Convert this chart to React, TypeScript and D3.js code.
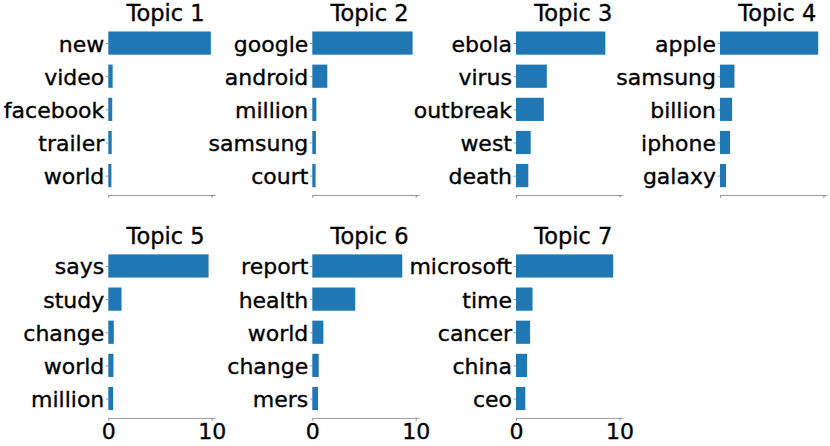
import React, { useEffect, useRef } from 'react'
import * as d3 from 'd3'

// top words per topic
const topic1Words = ['new', 'video', 'facebook', 'trailer', 'world']
const topic1Weights = [9.92, 0.42, 0.38, 0.33, 0.3]
const topic2Words = ['google', 'android', 'million', 'samsung', 'court']
const topic2Weights = [9.7, 1.45, 0.39, 0.35, 0.32]
const topic3Words = ['ebola', 'virus', 'outbreak', 'west', 'death']
const topic3Weights = [8.64, 2.98, 2.69, 1.42, 1.19]
const topic4Words = ['apple', 'samsung', 'billion', 'iphone', 'galaxy']
const topic4Weights = [9.5, 1.4, 1.17, 0.97, 0.58]
const topic5Words = ['says', 'study', 'change', 'world', 'million']
const topic5Weights = [9.7, 1.28, 0.53, 0.5, 0.47]
const topic6Words = ['report', 'health', 'world', 'change', 'mers']
const topic6Weights = [8.7, 4.15, 1.07, 0.62, 0.55]
const topic7Words = ['microsoft', 'time', 'cancer', 'china', 'ceo']
const topic7Weights = [9.4, 1.6, 1.36, 1.07, 0.9]
const xTicks = [0, 10]

const topics = [
  { title: 'Topic 1', words: topic1Words, weights: topic1Weights },
  { title: 'Topic 2', words: topic2Words, weights: topic2Weights },
  { title: 'Topic 3', words: topic3Words, weights: topic3Weights },
  { title: 'Topic 4', words: topic4Words, weights: topic4Weights },
  { title: 'Topic 5', words: topic5Words, weights: topic5Weights },
  { title: 'Topic 6', words: topic6Words, weights: topic6Weights },
  { title: 'Topic 7', words: topic7Words, weights: topic7Weights },
]

const W = 830
const H = 446
const colLeft = [108.3, 312.3, 516, 720]
const rowTop = [23.7, 246.6]
const axW = 106.7
const axH = 171.3
const FONT = '"DejaVu Sans", Verdana, sans-serif'
const BLUE = '#1f77b4'
const GREY = '#808080'

// matplotlib-ish heavier text
function styleText(sel: any, size: number) {
  sel
    .attr('font-family', FONT)
    .attr('font-size', size)
    .attr('fill', '#000')
    .attr('stroke', '#000')
    .attr('stroke-width', 0.35)
}

function App() {
  const ref = useRef<SVGSVGElement>(null)

  useEffect(() => {
    const svg = d3.select(ref.current)
    svg.selectAll('*').remove()

    // shared x scale (sharex)
    const x = d3.scaleLinear().domain([0, 10.32]).range([0, axW])

    topics.forEach((t, i) => {
      const col = i % 4
      const row = Math.floor(i / 4)
      const g = svg.append('g')
        .attr('transform', `translate(${colLeft[col]},${rowTop[row]})`)

      const y = d3.scaleLinear().domain([-0.585, 4.585]).range([0, axH])
      const unit = y(1) - y(0)
      const idx = t.words.map((_, k) => k)

      g.selectAll('rect.bar')
        .data(idx)
        .enter()
        .append('rect')
        .attr('class', 'bar')
        .attr('x', x(0))
        .attr('y', k => y(k) - unit * 0.35)
        .attr('width', k => x(t.weights[k]) - x(0))
        .attr('height', unit * 0.7)
        .attr('fill', BLUE)

      // y ticks + word labels (left spine hidden)
      const yAxis = d3.axisLeft(y)
        .tickValues(idx)
        .tickSize(2.5)
        .tickPadding(1.5)
        .tickFormat((k: any) => t.words[k])
      const ya = g.append('g').call(yAxis)
      ya.select('.domain').remove()
      ya.selectAll('line').attr('stroke', GREY).attr('stroke-width', 0.8)
      styleText(ya.selectAll('text').attr('dy', '0.36em'), 22)

      // bottom spine with ticks; labels only on last row
      const xAxis = d3.axisBottom(x)
        .tickValues(xTicks)
        .tickSize(3)
        .tickSizeOuter(0)
        .tickPadding(2)
        .tickFormat(row === 1 ? (d3.format('d') as any) : () => '')
      const xa = g.append('g')
        .attr('transform', `translate(0,${axH})`)
        .call(xAxis)
      xa.select('.domain').attr('stroke', GREY).attr('stroke-width', 0.8)
      xa.selectAll('line').attr('stroke', GREY).attr('stroke-width', 0.8)
      styleText(xa.selectAll('text'), 22)

      const title = g.append('text')
        .attr('x', axW / 2 + 4)
        .attr('y', -2.3)
        .attr('text-anchor', 'middle')
        .text(t.title)
      styleText(title, 22.5)
    })
  }, [])

  return (
    <svg
      ref={ref}
      width={W}
      height={H}
      style={{ position: 'absolute', left: 0, top: 0, background: '#fff' }}
    />
  )
}

export default App
